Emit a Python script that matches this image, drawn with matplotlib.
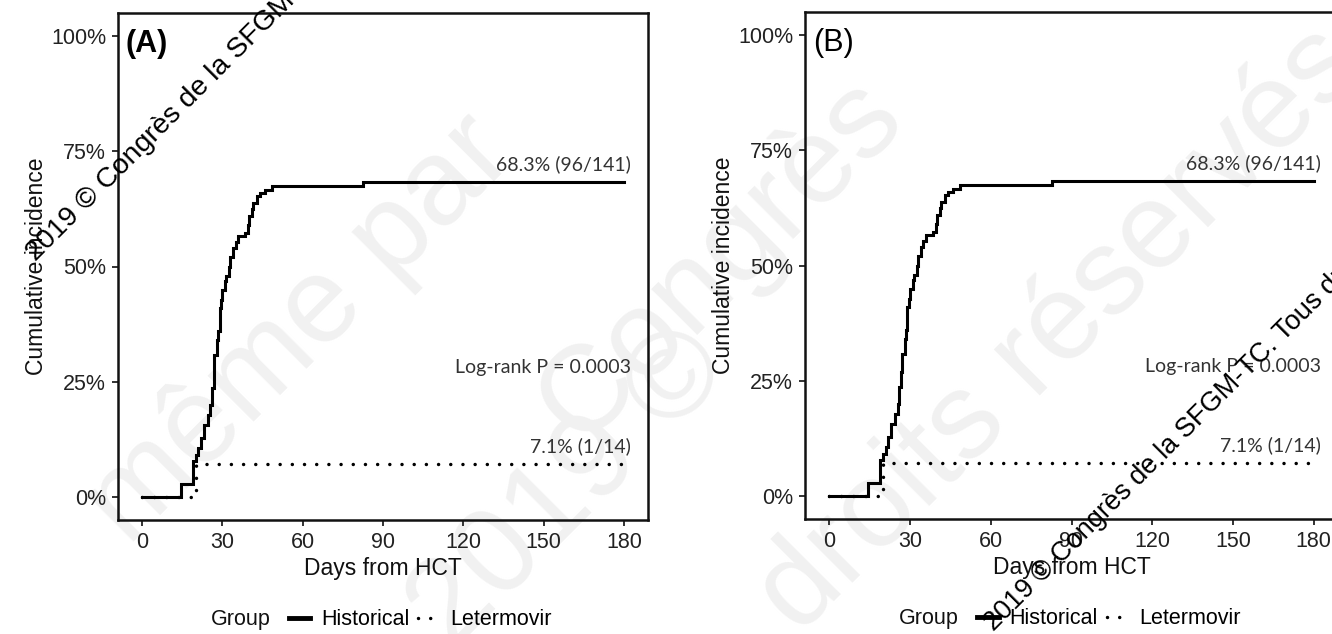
import matplotlib
matplotlib.use('Agg')

import matplotlib.pyplot as plt

# Historical group: cumulative incidence steps (day, value)
hist_days = [0, 14.5, 19, 20, 21, 22, 23, 24.5, 25.5, 26, 26.7, 27, 28, 28.5, 29, 29.5,
             30, 31, 31.5, 32.5, 33, 34, 35, 36, 38.5, 39.5, 40, 41, 41.5, 43, 44,
             46, 48.5, 82.7, 180]
hist_ci = [0, 0.028, 0.078, 0.092, 0.106, 0.128, 0.156, 0.178, 0.20, 0.236, 0.27, 0.308,
           0.34, 0.36, 0.41, 0.427, 0.45, 0.468, 0.48, 0.50, 0.52, 0.54, 0.553, 0.566,
           0.573, 0.59, 0.61, 0.624, 0.638, 0.652, 0.66, 0.666, 0.675, 0.683, 0.683]

# Letermovir group
let_days = [0, 20, 180]
let_ci = [0, 0.071, 0.071]

x_ticks = [0, 30, 60, 90, 120, 150, 180]
y_ticks = [0, 0.25, 0.5, 0.75, 1.0]
y_ticklabels = ['0%', '25%', '50%', '75%', '100%']

panels = ['(A)', '(B)']
hist_label = '68.3% (96/141)'
let_label = '7.1% (1/14)'
p_label = 'Log-rank P = 0.0003'
wm_text = '2019 © Congrès de la SFGM-TC. Tous droits réservés'

plt.rcParams['font.family'] = ['Liberation Sans', 'DejaVu Sans']

fig = plt.figure(figsize=(13.32, 6.34), dpi=100)
W, H = 1332, 634

# faint background watermark
for txt, x, y in [('même par', 300, 330), ('Congrès', 720, 260), ('2019 ©', 570, 490),
                  ('droits réservés', 1060, 330)]:
    fig.text(x / W, 1 - y / H, txt, fontsize=88, color='#f1f1f1', rotation=45,
             ha='center', va='center', zorder=-5)

boxes = [[118, 520, 530], [805, 519, 533]]
bold = ['bold', 'normal']

for i, (left, bottom, width) in enumerate(boxes):
    ax = fig.add_axes([left / W, 1 - bottom / H, width / W, 507 / H])
    ax.set_facecolor('none')
    ax.step(hist_days, hist_ci, where='post', color='black', lw=2.2,
            solid_joinstyle='miter', label='Historical')
    ax.step(let_days, let_ci, where='post', color='black', lw=2.5,
            linestyle=(0, (0.01, 3.5)), dash_capstyle='round', label='Letermovir')

    ax.set_xlim(-9, 189)
    ax.set_ylim(-0.05, 1.05)
    ax.set_xticks(x_ticks)
    ax.set_yticks(y_ticks)
    ax.set_yticklabels(y_ticklabels)
    ax.tick_params(labelsize=15.5, length=4, width=1.3, pad=4.5, colors='#222222')
    for s in ax.spines.values():
        s.set_linewidth(1.8)
        s.set_color('#111111')

    ax.set_xlabel('Days from HCT', fontsize=16.5, color='#111111')
    ax.set_ylabel('Cumulative incidence', fontsize=16.5, color='#111111')
    ax.xaxis.set_label_coords(0.5, -0.073)
    ax.yaxis.set_label_coords(-0.132, 0.5)

    ax.text(0.015, 0.939, panels[i], transform=ax.transAxes, fontsize=22,
            fontweight=bold[i], ha='left', va='center')

    ann = dict(family='Lato', fontsize=14, color='#333333', ha='right', va='center')
    ax.text(182.5, 0.722, hist_label, **ann)
    ax.text(182.5, 0.28, p_label, **ann)
    ax.text(182.5, 0.11, let_label, **ann)

    ax.text(0.232, -0.197, 'Group', transform=ax.transAxes, fontsize=15.5,
            ha='center', va='center', color='#111111')
    leg = ax.legend(loc='center', bbox_to_anchor=(0.57, -0.197), ncol=2, frameon=False,
                    fontsize=15.5, handlelength=1.0, handletextpad=0.5,
                    columnspacing=0.4, borderpad=0)
    leg.get_lines()[0].set_linewidth(3.5)

# black diagonal watermarks
fig.text(36 / W, 1 - 262 / H, wm_text, fontsize=20.5, rotation=45, rotation_mode='anchor',
         ha='left', va='baseline', color='black')
fig.text(994 / W, 1 - 632 / H, wm_text, fontsize=19.5, rotation=45, rotation_mode='anchor',
         ha='left', va='baseline', color='black')

fig.savefig('out.png', dpi=100)
